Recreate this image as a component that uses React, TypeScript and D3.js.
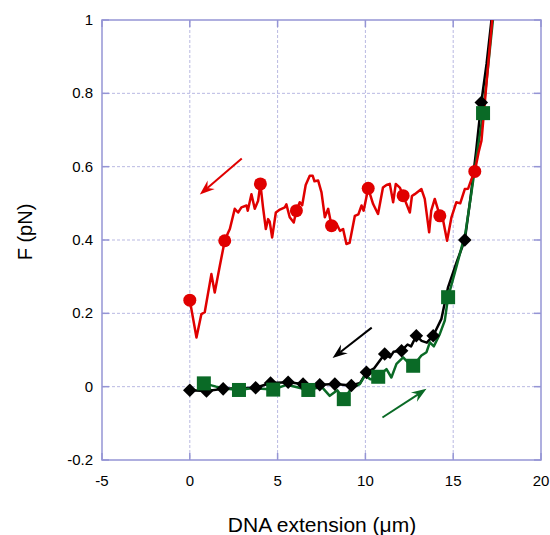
import React from 'react';
import * as d3 from 'd3';

// data: x = DNA extension (um), y = F (pN)
const redLine: [number, number][] = [
  [0, 0.236], [0.38, 0.134], [0.66, 0.198], [0.85, 0.203], [1.23, 0.307], [1.42, 0.257],
  [1.71, 0.33], [1.99, 0.398], [2.18, 0.42], [2.28, 0.43], [2.56, 0.485], [2.75, 0.475],
  [2.94, 0.489], [3.23, 0.494], [3.3, 0.48], [3.51, 0.525], [3.7, 0.485], [3.89, 0.507],
  [4.02, 0.553], [4.17, 0.489], [4.33, 0.43], [4.46, 0.457], [4.55, 0.45], [4.69, 0.407],
  [4.9, 0.475], [5.13, 0.483], [5.41, 0.489], [5.5, 0.497], [5.69, 0.462], [5.92, 0.448],
  [6.07, 0.48], [6.26, 0.503], [6.4, 0.495], [6.6, 0.55], [6.83, 0.575], [7.0, 0.575],
  [7.1, 0.56], [7.31, 0.562], [7.5, 0.53], [7.69, 0.462], [7.88, 0.485], [8.07, 0.439],
  [8.35, 0.445], [8.55, 0.425], [8.73, 0.43], [8.92, 0.389], [9.1, 0.392], [9.4, 0.466],
  [9.6, 0.47], [9.78, 0.494], [9.9, 0.48], [10.16, 0.541], [10.44, 0.498], [10.72, 0.471],
  [11.0, 0.543], [11.2, 0.55], [11.39, 0.553], [11.58, 0.503], [11.73, 0.553], [11.96, 0.543],
  [12.15, 0.521], [12.53, 0.475], [12.65, 0.52], [12.81, 0.525], [13.19, 0.539], [13.38, 0.512],
  [13.63, 0.421], [13.75, 0.48], [13.95, 0.512], [14.24, 0.466], [14.4, 0.46], [14.65, 0.398],
  [14.9, 0.462], [15.18, 0.503], [15.4, 0.5], [15.66, 0.539], [15.85, 0.54], [16.04, 0.566],
  [16.23, 0.587], [16.45, 0.64], [16.61, 0.671], [16.9, 0.83], [17.22, 1.0]
];
const redMarks: [number, number][] = [
  [0, 0.236], [1.99, 0.398], [4.02, 0.553], [6.07, 0.48], [8.07, 0.439],
  [10.16, 0.541], [12.15, 0.521], [14.24, 0.466], [16.23, 0.587]
];

const blackLine: [number, number][] = [
  [0, -0.01], [0.95, -0.012], [1.9, -0.006], [2.8, -0.004], [3.75, -0.003], [4.6, 0.01],
  [5.6, 0.012], [6.45, 0.007], [7.4, 0.005], [8.26, 0.007], [9.2, 0.003], [9.7, 0.01],
  [10.06, 0.039], [10.5, 0.05], [11.1, 0.089], [11.4, 0.08], [11.6, 0.095], [12.06, 0.098],
  [12.4, 0.115], [12.6, 0.11], [12.9, 0.139], [13.2, 0.125], [13.5, 0.12], [13.86, 0.139],
  [14.33, 0.185], [14.7, 0.27], [15.2, 0.34], [15.66, 0.4], [16.0, 0.52], [16.3, 0.64],
  [16.6, 0.775], [16.9, 0.88], [17.18, 1.0]
];
const blackMarks: [number, number][] = [
  [0, -0.01], [0.95, -0.012], [1.9, -0.006], [3.75, -0.003], [4.6, 0.01], [5.6, 0.012],
  [6.45, 0.007], [7.4, 0.005], [8.26, 0.007], [9.2, 0.003], [10.06, 0.039], [11.1, 0.089],
  [12.06, 0.098], [12.9, 0.139], [13.86, 0.139], [15.66, 0.4], [16.6, 0.775]
];

const greenLine: [number, number][] = [
  [0.8, 0.009], [1.5, 0.0], [2.0, -0.005], [2.8, -0.009], [3.6, -0.004], [4.75, -0.008],
  [5.5, 0.005], [6.0, 0.0], [6.75, -0.009], [7.5, 0.0], [7.97, -0.025], [8.4, -0.01],
  [8.77, -0.034], [9.2, -0.005], [9.68, 0.007], [9.97, 0.03], [10.3, 0.02], [10.73, 0.027],
  [11.2, 0.048], [11.48, 0.025], [11.77, 0.062], [12.15, 0.08], [12.45, 0.065], [12.72, 0.057],
  [13.19, 0.085], [13.48, 0.094], [13.67, 0.121], [13.9, 0.11], [14.24, 0.144], [14.52, 0.18],
  [14.71, 0.244], [15.2, 0.33], [15.7, 0.42], [16.1, 0.55], [16.4, 0.65], [16.7, 0.746],
  [17.0, 0.88], [17.26, 1.0]
];
const greenMarks: [number, number][] = [
  [0.8, 0.009], [2.8, -0.009], [4.75, -0.008], [6.75, -0.009], [8.77, -0.034],
  [10.73, 0.027], [12.72, 0.057], [14.71, 0.244], [16.7, 0.746]
];

// direction arrows: [from, to]
const arrows: { from: [number, number]; to: [number, number]; color: string }[] = [
  { from: [2.96, 0.622], to: [0.57, 0.524], color: '#e00000' },
  { from: [10.36, 0.161], to: [8.13, 0.078], color: '#000000' },
  { from: [10.97, -0.084], to: [13.48, -0.006], color: '#0a6a26' }
];

const xTicks = [-5, 0, 5, 10, 15, 20];
const yTicks = [-0.2, 0, 0.2, 0.4, 0.6, 0.8, 1];
const yTickLabels = ['-0.2', '0', '0.2', '0.4', '0.6', '0.8', '1'];

const W = 550;
const H = 535;
const left = 102, right = 541, top = 20, bottom = 460;
const font = 'Liberation Sans, Arial, sans-serif';

const RED = '#e00000';
const GREEN = '#0a6a26';
const FRAME = '#9595d5';
const GRID = '#b9b9e2';

const App = () => {
  const x = d3.scaleLinear().domain([-5, 20]).range([left, right]);
  const y = d3.scaleLinear().domain([-0.2, 1]).range([bottom, top]);
  const line = d3.line<[number, number]>().x((d) => x(d[0])).y((d) => y(d[1]));

  const arrowPath = (a: typeof arrows[number]) => {
    const x1 = x(a.from[0]), y1 = y(a.from[1]);
    const x2 = x(a.to[0]), y2 = y(a.to[1]);
    const ang = Math.atan2(y2 - y1, x2 - x1);
    const len = 15, half = 5.5, notch = 10;
    const ux = Math.cos(ang), uy = Math.sin(ang);
    const px = -uy, py = ux;
    const bx = x2 - ux * len, by = y2 - uy * len;
    const nx = x2 - ux * notch, ny = y2 - uy * notch;
    return {
      shaft: `M${x1},${y1}L${nx},${ny}`,
      head: `M${x2},${y2}L${bx + px * half},${by + py * half}L${nx},${ny}L${bx - px * half},${by - py * half}Z`
    };
  };

  return (
    <svg width={W} height={H} style={{ position: 'absolute', left: 0, top: 0, background: '#fff' }}>
      <defs>
        <clipPath id="plot">
          <rect x={left} y={top} width={right - left} height={bottom - top} />
        </clipPath>
      </defs>

      {/* grid */}
      {xTicks.slice(1, -1).map((t) => (
        <line key={'gx' + t} x1={x(t)} x2={x(t)} y1={top} y2={bottom} stroke={GRID} strokeDasharray="3,2" />
      ))}
      {yTicks.slice(1, -1).map((t) => (
        <line key={'gy' + t} x1={left} x2={right} y1={y(t)} y2={y(t)} stroke={GRID} strokeDasharray="3,2" />
      ))}

      {/* frame and inner ticks */}
      <rect x={left} y={top} width={right - left} height={bottom - top} fill="none" stroke={FRAME} strokeWidth={1.5} />
      {xTicks.map((t) => (
        <g key={'tx' + t}>
          <line x1={x(t)} x2={x(t)} y1={bottom} y2={bottom - 7} stroke={FRAME} strokeWidth={1.5} />
          <line x1={x(t)} x2={x(t)} y1={top} y2={top + 7} stroke={FRAME} strokeWidth={1.5} />
        </g>
      ))}
      {yTicks.map((t) => (
        <g key={'ty' + t}>
          <line x1={left} x2={left + 7} y1={y(t)} y2={y(t)} stroke={FRAME} strokeWidth={1.5} />
          <line x1={right} x2={right - 7} y1={y(t)} y2={y(t)} stroke={FRAME} strokeWidth={1.5} />
        </g>
      ))}

      {/* tick labels */}
      {xTicks.map((t) => (
        <text key={'lx' + t} x={x(t)} y={486} textAnchor="middle" fontFamily={font} fontSize={15}>
          {String(t)}
        </text>
      ))}
      {yTicks.map((t, i) => (
        <text key={'ly' + t} x={93} y={y(t) + 5} textAnchor="end" fontFamily={font} fontSize={15}>
          {yTickLabels[i]}
        </text>
      ))}

      {/* axis titles */}
      <text x={322} y={532} textAnchor="middle" fontFamily={font} fontSize={21}>
        DNA extension (μm)
      </text>
      <text transform="translate(32,232) rotate(-90)" textAnchor="middle" fontFamily={font} fontSize={20}>
        F (pN)
      </text>

      <g clipPath="url(#plot)">
        {/* series */}
        <path d={line(blackLine) || ''} fill="none" stroke="#000" strokeWidth={2.5} strokeLinejoin="round" />
        <path d={line(greenLine) || ''} fill="none" stroke={GREEN} strokeWidth={2.5} strokeLinejoin="round" />
        <path d={line(redLine) || ''} fill="none" stroke={RED} strokeWidth={2.5} strokeLinejoin="round" />

        {blackMarks.map((d, i) => (
          <rect key={'bm' + i} x={-4.8} y={-4.8} width={9.6} height={9.6} fill="#000"
            transform={`translate(${x(d[0])},${y(d[1])}) rotate(45)`} />
        ))}
        {greenMarks.map((d, i) => (
          <rect key={'gm' + i} x={x(d[0]) - 7} y={y(d[1]) - 7} width={14} height={14} fill={GREEN} />
        ))}
        {redMarks.map((d, i) => (
          <circle key={'rm' + i} cx={x(d[0])} cy={y(d[1])} r={6.5} fill={RED} />
        ))}
      </g>

      {/* arrows */}
      {arrows.map((a, i) => {
        const p = arrowPath(a);
        return (
          <g key={'ar' + i}>
            <path d={p.shaft} stroke={a.color} strokeWidth={2} fill="none" />
            <path d={p.head} fill={a.color} />
          </g>
        );
      })}
    </svg>
  );
};

export default App;
